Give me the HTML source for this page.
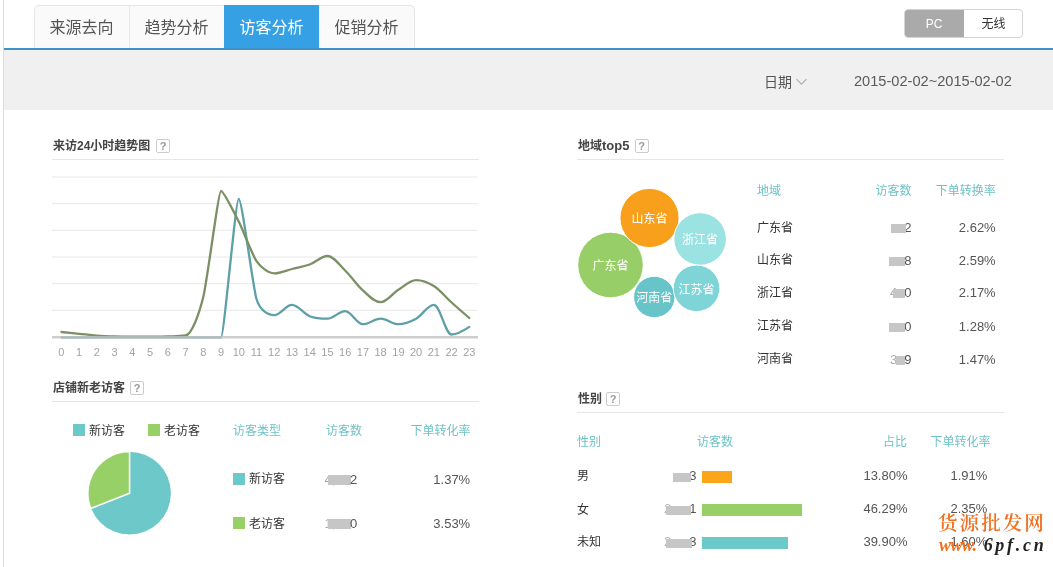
<!DOCTYPE html>
<html lang="zh-CN">
<head>
<meta charset="utf-8">
<title>访客分析</title>
<style>
html,body{margin:0;padding:0;}
body{width:1053px;height:567px;overflow:hidden;background:#fff;position:relative;
 font-family:"Liberation Sans","Noto Sans CJK SC",sans-serif;font-size:12px;color:#333;}
.abs{position:absolute;}
.t{position:absolute;white-space:nowrap;line-height:16px;height:16px;}
.r{text-align:right;}
#lborder{left:3px;top:0;width:1px;height:567px;background:#dcdcdc;}
#blue{left:4px;top:48px;width:1049px;height:2px;background:#3d92c8;}
#gray{left:4px;top:50px;width:1049px;height:60px;background:#f0f0f0;}
#tabs{left:34px;top:5px;height:43px;width:381px;border:1px solid #e6e6e6;border-bottom:none;border-radius:5px 5px 0 0;background:#fafafa;box-sizing:border-box;}
.tab{position:absolute;top:5px;height:43px;width:95px;line-height:45px;text-align:center;font-size:16px;color:#555;}
.tab.on{background:#35a0e3;color:#fff;}
.tdiv{position:absolute;top:6px;width:1px;height:42px;background:#e8e8e8;}
#sw{left:904px;top:9px;width:119px;height:29px;border:1px solid #d4d4d4;border-radius:4px;box-sizing:border-box;overflow:hidden;background:#fff;}
#sw .a{position:absolute;left:-1px;top:-1px;width:60px;height:29px;line-height:31px;background:#aaa;color:#fff;text-align:center;font-size:12px;}
#sw .b{position:absolute;left:59px;top:-1px;width:59px;height:29px;line-height:31px;color:#333;text-align:center;font-size:12px;}
.h{position:absolute;font-weight:bold;font-size:12px;color:#444;line-height:16px;height:16px;white-space:nowrap;}
.q{position:absolute;width:12px;height:12px;border:1px solid #ccc;color:#999;font-size:11px;font-weight:bold;line-height:12px;text-align:center;border-radius:2px;background:#fff;}
.hr{position:absolute;height:1px;background:#e6e6e6;}
.th{color:#6fc3c6;}
.num{color:#555;font-size:13px;}
.blk{position:absolute;background:#c6c6c6;}
.sq{position:absolute;width:12px;height:12px;}
.c1{background:#6dc8ca;}.c2{background:#98d068;}.c3{background:#fba51a;}
.bub{position:absolute;border-radius:50%;border:1px solid #fff;box-sizing:border-box;color:#fff;text-align:center;font-size:12px;}
.ax{font-size:11px;fill:#a2a2a2;font-family:"Liberation Sans",sans-serif;}
.wm{position:absolute;white-space:nowrap;}
</style>
</head>
<body>
<div class="abs" id="lborder"></div>
<div class="abs" id="tabs"></div>
<div class="tab" style="left:34px">来源去向</div>
<div class="tdiv" style="left:129px"></div>
<div class="tab" style="left:129px">趋势分析</div>
<div class="tab on" style="left:224px">访客分析</div>
<div class="tab" style="left:319px">促销分析</div>
<div class="abs" id="sw"><div class="a">PC</div><div class="b">无线</div></div>
<div class="abs" id="blue"></div>
<div class="abs" id="gray"></div>
<div class="t" style="left:764px;top:74px;font-size:14px;color:#555;">日期</div>
<svg class="abs" style="left:795px;top:76px" width="13" height="10" viewBox="0 0 13 10"><path d="M1.5 3.1 L6.5 8.1 L11.5 3.1" fill="none" stroke="#b0b0b0" stroke-width="1.2"/></svg>
<div class="t" style="left:854px;top:73px;font-size:14.6px;color:#5a5a5a;">2015-02-02~2015-02-02</div>
<div class="h" style="left:53px;top:138px;">来访24小时趋势图</div>
<div class="q" style="left:156px;top:139px;">?</div>
<div class="hr" style="left:52px;top:159px;width:427px;"></div>
<svg class="abs" style="left:0;top:165px" width="530" height="200" viewBox="0 165 530 200">
<line x1="52" x2="478" y1="177.0" y2="177.0" stroke="#e8e8e8" stroke-width="1"/>
<line x1="52" x2="478" y1="203.7" y2="203.7" stroke="#e8e8e8" stroke-width="1"/>
<line x1="52" x2="478" y1="230.3" y2="230.3" stroke="#e8e8e8" stroke-width="1"/>
<line x1="52" x2="478" y1="257.0" y2="257.0" stroke="#e8e8e8" stroke-width="1"/>
<line x1="52" x2="478" y1="283.7" y2="283.7" stroke="#e8e8e8" stroke-width="1"/>
<line x1="52" x2="478" y1="310.3" y2="310.3" stroke="#e8e8e8" stroke-width="1"/>
<path d="M61.40 337.30 C61.40 337.30 72.80 337.30 79.13 337.30 C85.47 337.30 90.54 337.30 96.87 337.30 C103.20 337.30 108.27 337.30 114.60 337.30 C120.94 337.30 126.01 337.30 132.34 337.30 C138.67 337.30 143.74 337.30 150.07 337.30 C156.41 337.30 161.48 337.30 167.81 337.30 C174.14 337.30 179.21 337.30 185.54 337.30 C191.88 337.30 196.95 337.30 203.28 337.30 C209.61 337.30 218.06 337.30 221.02 337.30 C223.97 337.30 235.53 199.00 238.75 199.00 C241.97 199.00 252.94 287.38 256.48 299.00 C260.03 310.62 267.89 315.20 274.22 315.20 C280.55 315.20 285.62 304.90 291.95 304.90 C298.29 304.90 303.36 313.74 309.69 316.20 C316.02 318.66 321.09 318.70 327.42 318.70 C333.76 318.70 338.83 311.10 345.16 311.10 C351.49 311.10 356.56 324.20 362.89 324.20 C369.23 324.20 374.30 318.70 380.63 318.70 C386.96 318.70 392.03 324.20 398.36 324.20 C404.70 324.20 409.77 322.15 416.10 318.70 C422.43 315.25 427.50 304.90 433.83 304.90 C440.17 304.90 445.24 334.50 451.57 334.50 C457.90 334.50 469.30 326.90 469.30 326.90" fill="none" stroke="#5da0a7" stroke-width="2.3" stroke-linejoin="round" stroke-linecap="round"/>
<path d="M61.40 332.00 C61.40 332.00 72.80 333.16 79.13 333.80 C85.47 334.44 90.54 335.14 96.87 335.60 C103.20 336.06 108.27 336.22 114.60 336.40 C120.94 336.58 126.01 336.60 132.34 336.60 C138.67 336.60 143.74 336.60 150.07 336.60 C156.41 336.60 161.48 336.60 167.81 336.40 C174.14 336.20 179.21 336.40 185.54 335.50 C191.88 334.60 199.34 313.06 203.28 297.00 C207.22 280.94 218.48 191.00 221.02 191.00 C223.55 191.00 235.20 214.58 238.75 221.60 C242.30 228.62 252.94 256.03 256.48 261.20 C260.03 266.37 267.89 273.30 274.22 273.30 C280.55 273.30 285.62 270.57 291.95 269.00 C298.29 267.43 303.36 266.82 309.69 264.50 C316.02 262.18 321.09 256.00 327.42 256.00 C333.76 256.00 338.83 264.36 345.16 270.50 C351.49 276.64 356.56 284.74 362.89 290.40 C369.23 296.06 374.30 302.20 380.63 302.20 C386.96 302.20 392.03 293.75 398.36 289.80 C404.70 285.85 409.77 280.10 416.10 280.10 C422.43 280.10 427.50 282.00 433.83 286.00 C440.17 290.00 445.24 296.79 451.57 302.50 C457.90 308.21 469.30 318.00 469.30 318.00" fill="none" stroke="#7b9064" stroke-width="2.3" stroke-linejoin="round" stroke-linecap="round"/>
<line x1="52" x2="478" y1="337.3" y2="337.3" stroke="#c2c2c2" stroke-opacity="0.8" stroke-width="2.6"/>
<text class="ax" x="61.4" y="356" text-anchor="middle">0</text><text class="ax" x="79.1" y="356" text-anchor="middle">1</text><text class="ax" x="96.9" y="356" text-anchor="middle">2</text><text class="ax" x="114.6" y="356" text-anchor="middle">3</text><text class="ax" x="132.3" y="356" text-anchor="middle">4</text><text class="ax" x="150.1" y="356" text-anchor="middle">5</text><text class="ax" x="167.8" y="356" text-anchor="middle">6</text><text class="ax" x="185.5" y="356" text-anchor="middle">7</text><text class="ax" x="203.3" y="356" text-anchor="middle">8</text><text class="ax" x="221.0" y="356" text-anchor="middle">9</text><text class="ax" x="238.8" y="356" text-anchor="middle">10</text><text class="ax" x="256.5" y="356" text-anchor="middle">11</text><text class="ax" x="274.2" y="356" text-anchor="middle">12</text><text class="ax" x="292.0" y="356" text-anchor="middle">13</text><text class="ax" x="309.7" y="356" text-anchor="middle">14</text><text class="ax" x="327.4" y="356" text-anchor="middle">15</text><text class="ax" x="345.2" y="356" text-anchor="middle">16</text><text class="ax" x="362.9" y="356" text-anchor="middle">17</text><text class="ax" x="380.6" y="356" text-anchor="middle">18</text><text class="ax" x="398.4" y="356" text-anchor="middle">19</text><text class="ax" x="416.1" y="356" text-anchor="middle">20</text><text class="ax" x="433.8" y="356" text-anchor="middle">21</text><text class="ax" x="451.6" y="356" text-anchor="middle">22</text><text class="ax" x="469.3" y="356" text-anchor="middle">23</text>
</svg>
<div class="h" style="left:53px;top:380px;">店铺新老访客</div>
<div class="q" style="left:130px;top:381px;">?</div>
<div class="hr" style="left:52px;top:401px;width:427px;"></div>
<div class="sq c1" style="left:73px;top:424px"></div><div class="t" style="left:89px;top:423px">新访客</div>
<div class="sq c2" style="left:148px;top:424px"></div><div class="t" style="left:164px;top:423px">老访客</div>
<svg class="abs" style="left:80px;top:445px" width="100" height="100" viewBox="80 445 100 100">
<circle cx="129.6" cy="493.2" r="41.8" fill="#6dc8ca" stroke="#fff" stroke-width="1"/>
<path d="M129.6 493.2 L129.6 451.40 A41.8 41.8 0 0 0 90.71 508.52 Z" fill="#98d068" stroke="#fff" stroke-width="1.6" stroke-linejoin="round"/>
</svg>
<div class="t th" style="left:233px;top:423px">访客类型</div>
<div class="t th" style="left:326px;top:423px">访客数</div>
<div class="t th r" style="left:380px;width:90.5px;top:423px">下单转化率</div>
<div class="sq c1" style="left:233px;top:472.5px"></div><div class="t" style="left:249px;top:471px">新访客</div>
<div class="sq c2" style="left:233px;top:517px"></div><div class="t" style="left:249px;top:516px">老访客</div>
<div class="t num" style="left:324.6px;top:471.5px;color:#aaa">4,</div><div class="blk" style="left:328px;top:474.5px;width:22.5px;height:10px"></div><div class="t num r" style="left:340px;width:17.2px;top:471.5px">2</div>
<div class="t num" style="left:324.6px;top:516px;color:#aaa">1,</div><div class="blk" style="left:328px;top:519px;width:23px;height:10px"></div><div class="t num r" style="left:340px;width:17.2px;top:516px">0</div>
<div class="t num r" style="left:380px;width:90.2px;top:471.5px">1.37%</div>
<div class="t num r" style="left:380px;width:90.2px;top:516px">3.53%</div>
<div class="h" style="left:578px;top:138px;">地域<span style="font-size:13px">top5</span></div>
<div class="q" style="left:634.5px;top:139px;">?</div>
<div class="hr" style="left:577px;top:159px;width:427px;"></div>
<svg class="abs" style="left:570px;top:180px" width="170" height="150" viewBox="570 180 170 150">
<circle cx="610.5" cy="265" r="32.8" fill="#97ce68" stroke="#fff" stroke-width="1"/>
<circle cx="649.5" cy="218" r="29.6" fill="#f8a01c" stroke="#fff" stroke-width="1"/>
<circle cx="700.1" cy="239" r="26.3" fill="#9be2e2" stroke="#fff" stroke-width="1"/>
<circle cx="654.3" cy="297" r="20.7" fill="#67c4c8" stroke="#fff" stroke-width="1"/>
<circle cx="696.5" cy="288.3" r="23.3" fill="#7ed4d6" stroke="#fff" stroke-width="1"/>
</svg>
<div class="t" style="left:580.5px;top:258.4px;width:60px;text-align:center;color:#fff">广东省</div>
<div class="t" style="left:619.5px;top:211.4px;width:60px;text-align:center;color:#fff">山东省</div>
<div class="t" style="left:670.1px;top:232.4px;width:60px;text-align:center;color:#fff">浙江省</div>
<div class="t" style="left:624.3px;top:290.4px;width:60px;text-align:center;color:#fff">河南省</div>
<div class="t" style="left:666.5px;top:281.7px;width:60px;text-align:center;color:#fff">江苏省</div>
<div class="t th" style="left:757px;top:183px">地域</div>
<div class="t th r" style="left:840px;width:71.5px;top:183px">访客数</div>
<div class="t th r" style="left:900px;width:95.7px;top:183px">下单转换率</div>
<div class="t" style="left:757px;top:220px">广东省</div><div class="t num r" style="left:840px;width:71.4px;top:220px">2</div><div class="blk" style="left:890.7px;top:223.5px;width:15.5px;height:9.5px"></div><div class="t num r" style="left:900px;width:95.7px;top:220px">2.62%</div>
<div class="t" style="left:757px;top:252px">山东省</div><div class="t num r" style="left:840px;width:71.4px;top:252.5px">8</div><div class="blk" style="left:889px;top:256.5px;width:15.5px;height:9.5px"></div><div class="t num r" style="left:900px;width:95.7px;top:252.5px">2.59%</div>
<div class="t" style="left:757px;top:285px">浙江省</div><div class="t num" style="left:890px;top:285px;color:#aaa">4</div><div class="t num r" style="left:840px;width:71.4px;top:285px">0</div><div class="blk" style="left:893.2px;top:288.5px;width:11.8px;height:9.5px"></div><div class="t num r" style="left:900px;width:95.7px;top:285px">2.17%</div>
<div class="t" style="left:757px;top:318px">江苏省</div><div class="t num r" style="left:840px;width:71.4px;top:318.5px">0</div><div class="blk" style="left:889px;top:322.5px;width:15.5px;height:9.5px"></div><div class="t num r" style="left:900px;width:95.7px;top:318.5px">1.28%</div>
<div class="t" style="left:757px;top:351px">河南省</div><div class="t num" style="left:890px;top:352px;color:#aaa">3</div><div class="t num r" style="left:840px;width:71.4px;top:352px">9</div><div class="blk" style="left:896.2px;top:355.5px;width:8.8px;height:9.5px"></div><div class="t num r" style="left:900px;width:95.7px;top:352px">1.47%</div>
<div class="h" style="left:578px;top:391px;">性别</div>
<div class="q" style="left:606px;top:392px;">?</div>
<div class="hr" style="left:577px;top:412px;width:427px;"></div>
<div class="t th" style="left:577px;top:433.5px">性别</div>
<div class="t th" style="left:697px;top:433.5px">访客数</div>
<div class="t th r" style="left:850px;width:57px;top:433.5px">占比</div>
<div class="t th r" style="left:900px;width:90.5px;top:433.5px">下单转化率</div>
<div class="t" style="left:577px;top:467.5px">男</div><div class="t num r" style="left:640px;width:56.4px;top:467.5px">3</div><div class="blk" style="left:672.5px;top:472.5px;width:18.5px;height:9.5px"></div><div class="abs c3" style="left:702px;top:471px;width:30px;height:12px"></div><div class="t num r" style="left:850px;width:57.5px;top:467.5px">13.80%</div><div class="t num r" style="left:900px;width:87.4px;top:467.5px">1.91%</div>
<div class="t" style="left:577px;top:501.5px">女</div><div class="t num" style="left:663.9px;top:500.5px;color:#b5b5b5">2,</div><div class="t num r" style="left:640px;width:56.4px;top:500.5px">1</div><div class="blk" style="left:666px;top:505.5px;width:25px;height:9.5px"></div><div class="abs c2" style="left:702px;top:504px;width:100px;height:12px"></div><div class="t num r" style="left:850px;width:57.5px;top:500.5px">46.29%</div><div class="t num r" style="left:900px;width:87.4px;top:500.5px">2.35%</div>
<div class="t" style="left:577px;top:533.5px">未知</div><div class="t num" style="left:663.9px;top:533.5px;color:#b5b5b5">2,</div><div class="t num r" style="left:640px;width:56.4px;top:533.5px">3</div><div class="blk" style="left:666px;top:538.5px;width:26px;height:9.5px"></div><div class="abs c1" style="left:702px;top:537px;width:86px;height:12px"></div><div class="t num r" style="left:850px;width:57.5px;top:533.5px">39.90%</div><div class="t num r" style="left:900px;width:87.4px;top:533.5px">1.60%</div>
<div class="wm" style="left:938px;top:510.5px;font-family:'Liberation Serif','Noto Serif CJK SC',serif;font-size:19.6px;font-weight:600;color:#f0701f;letter-spacing:2px;line-height:26px">货源批发网</div>
<div class="wm" style="left:939px;top:533px;font-family:'Liberation Serif',serif;font-size:18px;font-style:italic;font-weight:bold;color:#222;letter-spacing:2.7px;line-height:24px"><span style="color:#f0701f;letter-spacing:-0.6px">www.</span> 6pf.cn</div>
</body>
</html>
